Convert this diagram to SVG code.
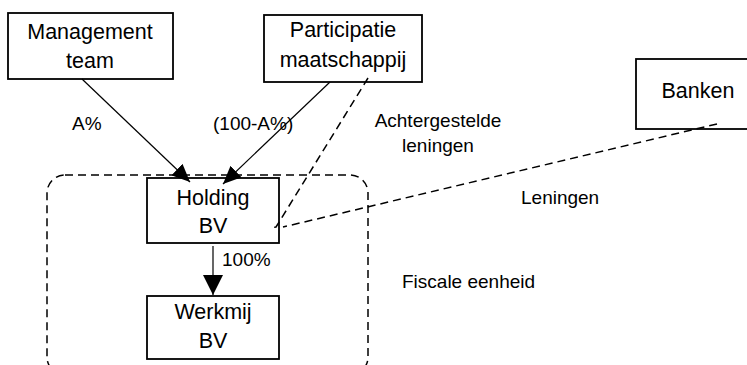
<svg xmlns="http://www.w3.org/2000/svg" width="747" height="365" viewBox="0 0 747 365">
<style>
.box{fill:#fff;stroke:#000;stroke-width:1.8}
.t{font-family:"Liberation Sans",Arial,sans-serif;font-size:21.5px;fill:#000;text-anchor:middle}
.l{font-family:"Liberation Sans",Arial,sans-serif;font-size:19px;fill:#000}
.arr{stroke:#000;stroke-width:1.2;fill:none}
.dash{stroke:#000;stroke-width:1.5;fill:none;stroke-dasharray:8,5}
</style>
<defs>
<marker id="ah" viewBox="0 0 18 16" refX="18" refY="8" markerWidth="18" markerHeight="16" markerUnits="userSpaceOnUse" orient="auto"><path d="M0,0 L18,8 L0,16 Z" fill="#000"/></marker>
<marker id="ahv" viewBox="0 0 20 20" refX="20" refY="10" markerWidth="20" markerHeight="20" markerUnits="userSpaceOnUse" orient="auto"><path d="M0,0 L20,10 L0,20 Z" fill="#000"/></marker>
</defs>
<g id="fiscale-eenheid">
<rect x="47" y="175" width="321" height="200" rx="18" class="dash" stroke-dasharray="8,4"/>
</g>
<g id="management">
<rect class="box" x="8" y="13" width="165" height="66"/>
<text class="t" x="90" y="39">Management</text>
<text class="t" x="90" y="68">team</text>
</g>
<g id="participatie">
<rect class="box" x="264" y="15" width="158" height="67"/>
<text class="t" x="343" y="37">Participatie</text>
<text class="t" x="343" y="67">maatschappij</text>
</g>
<g id="banken">
<rect class="box" x="636" y="59" width="124" height="70"/>
<text class="t" x="698" y="98">Banken</text>
</g>
<g id="holding">
<rect class="box" x="147" y="178" width="132" height="65"/>
<text class="t" x="213" y="205">Holding</text>
<text class="t" x="213" y="233">BV</text>
</g>
<g id="werkmij">
<rect class="box" x="147" y="296" width="132" height="63"/>
<text class="t" x="213" y="319">Werkmij</text>
<text class="t" x="213" y="348">BV</text>
</g>
<g id="connectors">
<line class="arr" x1="82" y1="79" x2="190" y2="182" marker-end="url(#ah)"/>
<line class="arr" x1="330" y1="82" x2="223" y2="184" marker-end="url(#ah)"/>
<line class="arr" x1="213" y1="246" x2="213" y2="295" stroke-width="1.5" marker-end="url(#ahv)"/>
<polyline class="dash" points="368,78 276,227 271,228"/>
<line class="dash" x1="717" y1="124" x2="283" y2="227"/>
</g>
<g id="labels">
<text class="l" x="72" y="130" font-size="20">A%</text>
<text class="l" x="213" y="130" font-size="21">(100-A%)</text>
<text class="l" x="438" y="127" text-anchor="middle">Achtergestelde</text>
<text class="l" x="438" y="152" text-anchor="middle">leningen</text>
<text class="l" x="521" y="204">Leningen</text>
<text class="l" x="402" y="288">Fiscale eenheid</text>
<text class="l" x="222" y="266" font-size="20">100%</text>
</g>
</svg>
